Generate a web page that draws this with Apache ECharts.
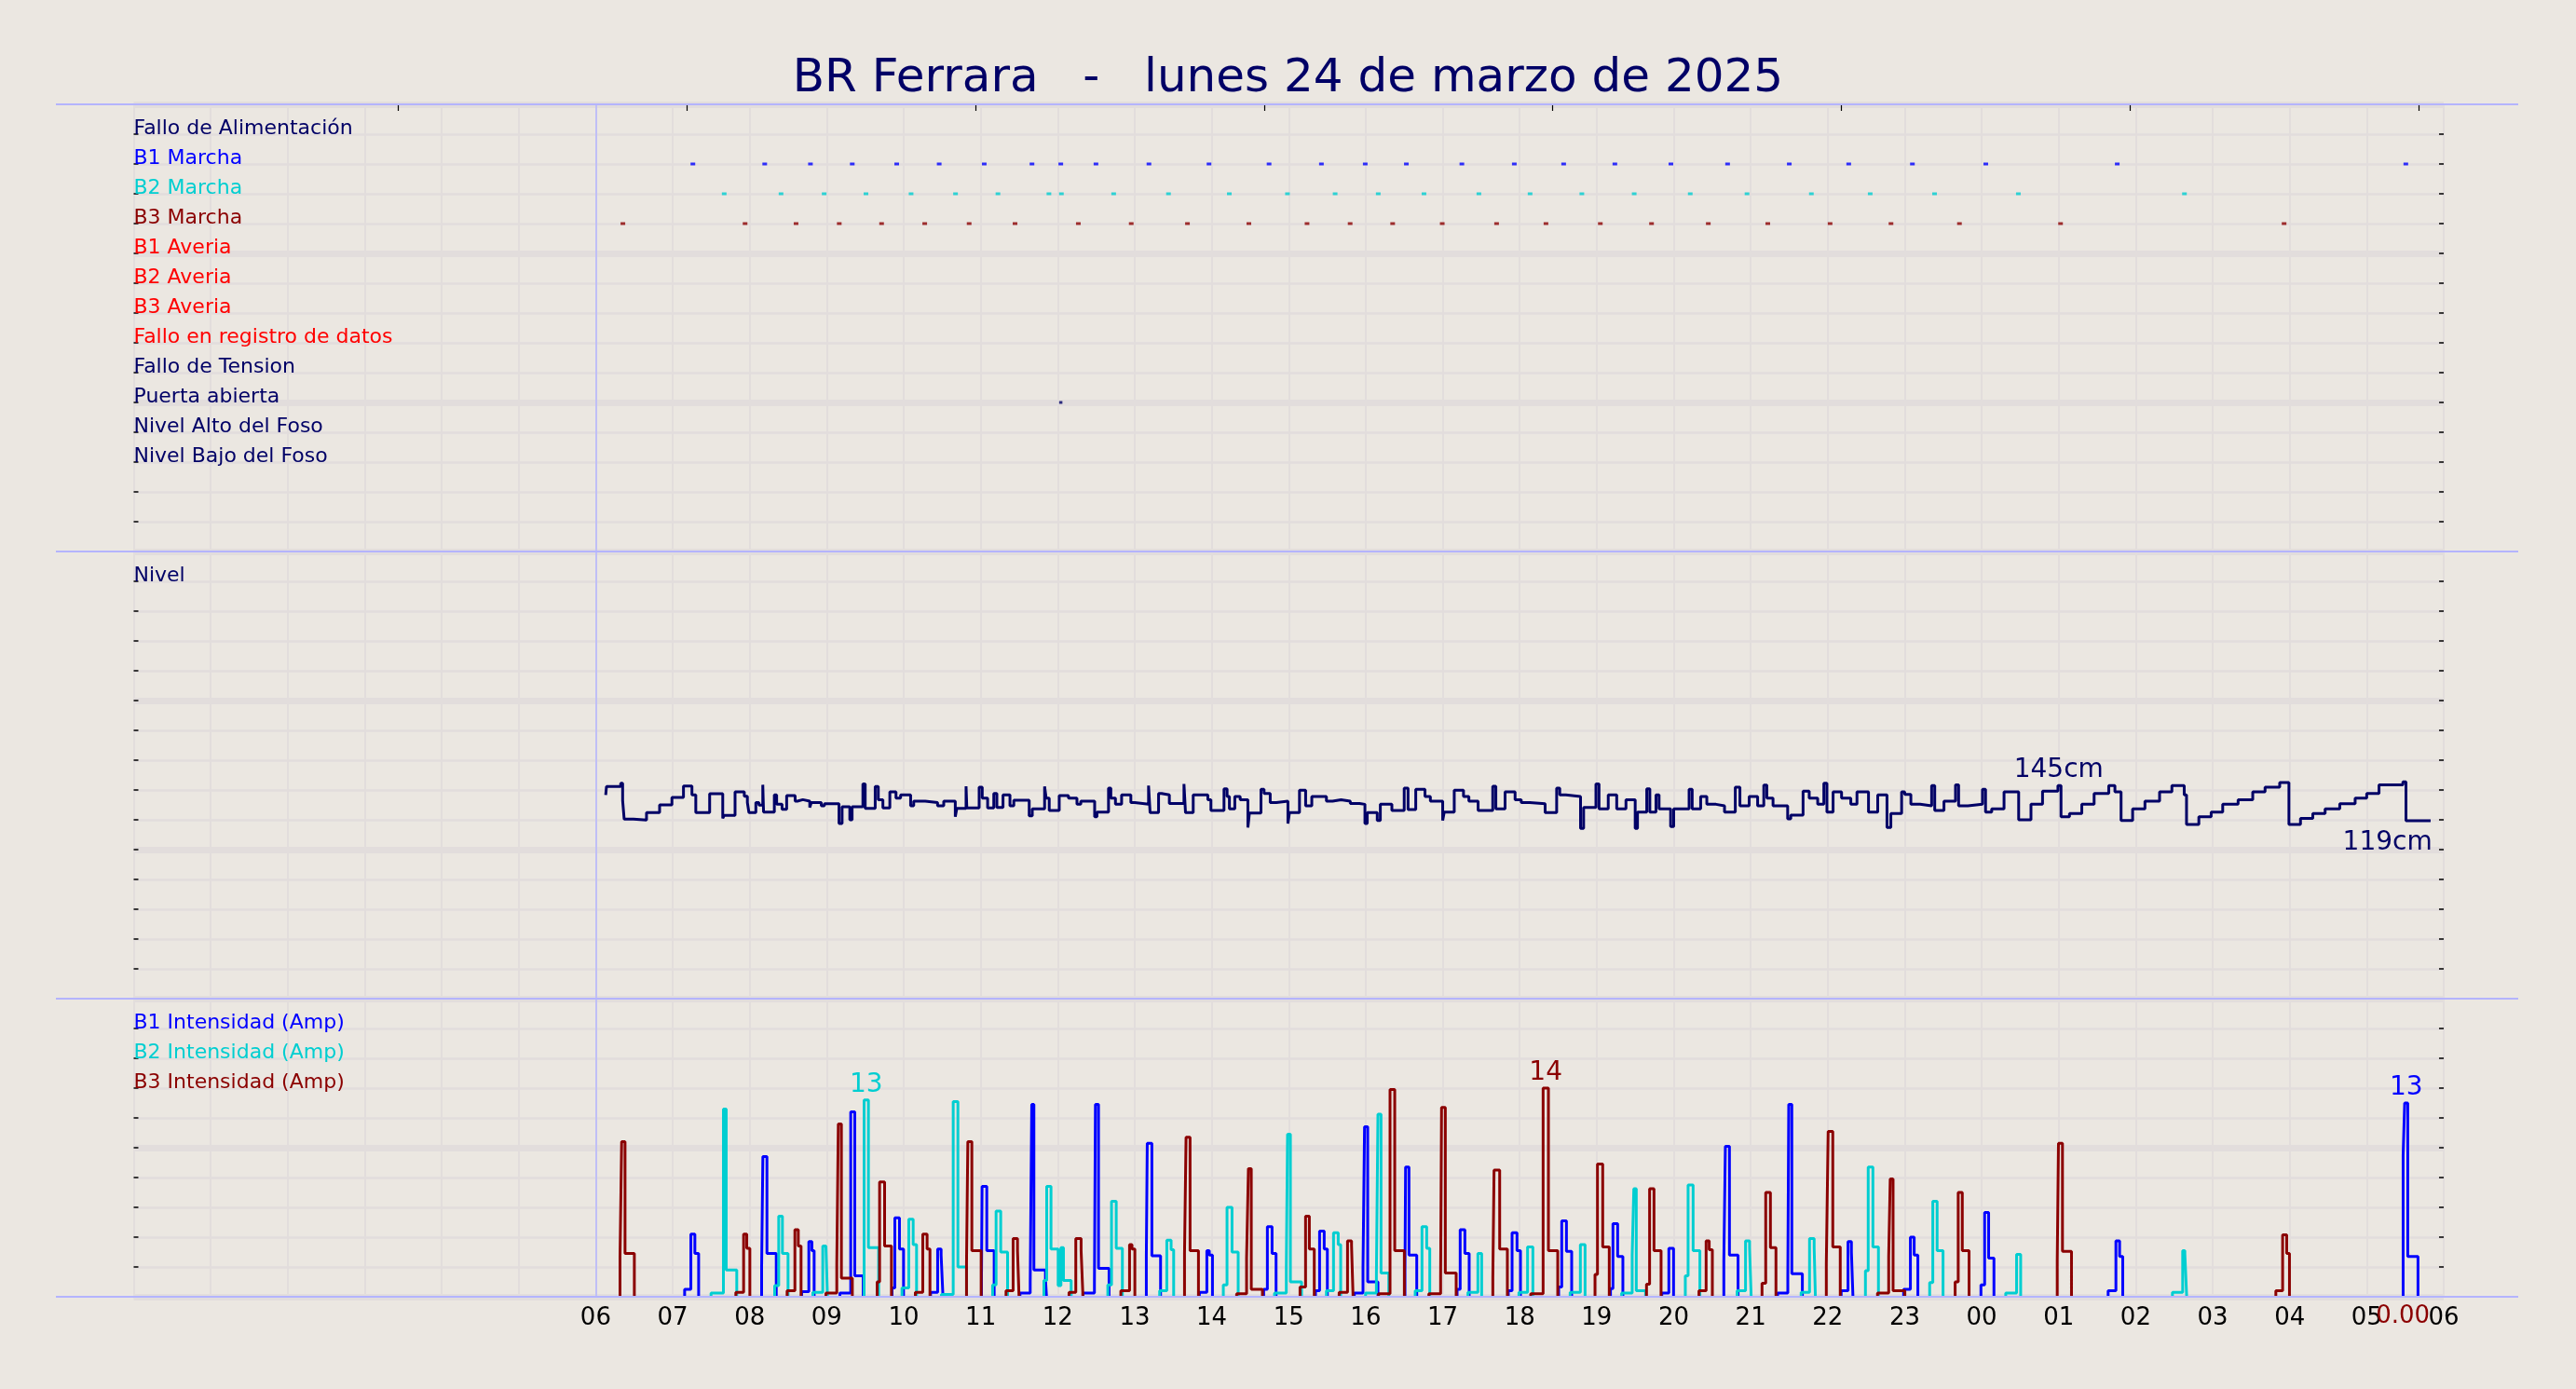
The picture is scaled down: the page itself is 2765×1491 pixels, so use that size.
<!DOCTYPE html>
<html>
<head>
<meta charset="utf-8">
<script src="https://cdn.jsdelivr.net/npm/echarts@6.0.0/dist/echarts.min.js"></script>
<style>
html,body{margin:0;padding:0;background:#ebe7e1;}
#chart{width:2765px;height:1491px;}
</style>
</head>
<body>
<div id="chart"></div>
<script>
// ---------------- DATA ----------------
const TITLE = 'BR Ferrara   -   lunes 24 de marzo de 2025';

// event rows (value on the event axis -> label)
const EVENT_ROW_VALUES = [14, 13, 12, 11, 10, 9, 8, 7, 6, 5, 4, 3];
const EVENT_LABELS = ['Fallo de Alimentación', 'B1 Marcha', 'B2 Marcha', 'B3 Marcha', 'B1 Averia', 'B2 Averia',
  'B3 Averia', 'Fallo en registro de datos', 'Fallo de Tension', 'Puerta abierta', 'Nivel Alto del Foso', 'Nivel Bajo del Foso'];
const EVENT_LABEL_COLORS = ['#000066', '#0000ff', '#00ced1', '#8b0000', '#ff0000', '#ff0000',
  '#ff0000', '#ff0000', '#000066', '#000066', '#000066', '#000066'];

const LEVEL_LABEL = 'Nivel';
const CURRENT_LABEL_VALUES = [18, 16, 14];
const CURRENT_LABELS = ['B1 Intensidad (Amp)', 'B2 Intensidad (Amp)', 'B3 Intensidad (Amp)'];

// hours since 00:00 of 24/03/2025
const B1_MARCHA = [7.262, 8.195, 8.789, 9.332, 9.909, 10.461, 11.046, 11.666, 12.040, 12.497, 13.185, 13.965, 14.745,
  15.425, 15.994, 16.528, 17.249, 17.930, 18.571, 19.236, 19.964, 20.700, 21.501, 22.273, 23.100, 24.053, 25.760, 29.508];
const B2_MARCHA = [7.669, 8.407, 8.967, 9.510, 10.096, 10.673, 11.224, 11.886, 12.048, 12.727, 13.439, 14.229, 14.984,
  15.603, 16.163, 16.757, 17.470, 18.135, 18.807, 19.487, 20.215, 20.952, 21.788, 22.552, 23.388, 24.476, 26.633];
const B3_MARCHA = [6.353, 7.940, 8.602, 9.163, 9.713, 10.273, 10.850, 11.446, 12.268, 12.955, 13.685, 14.483, 15.238,
  15.798, 16.350, 16.994, 17.700, 18.341, 19.047, 19.712, 20.449, 21.222, 22.031, 22.822, 23.711, 25.024, 27.927];
const PUERTA_ABIERTA = [12.040];

// level (cm), step points [hour, cm]
const LEVEL = [
  [6.13,136.7],[6.14,142.3],[6.325,144.6],[6.35,132.9],[6.37,120.4],[6.49,119.8],[6.66,124.8],[6.83,130.0],[6.99,135.0],
  [7.14,142.7],[7.25,136.7],[7.30,124.8],[7.48,137.5],[7.65,121.0],[7.67,122.9],[7.81,138.75],[7.93,135.8],[7.97,131.5],
  [7.99,124.8],[8.08,131.5],[8.12,129.8],[8.17,143.5],[8.18,125.2],[8.32,136.7],[8.35,130.4],[8.42,127.1],[8.48,136.25],
  [8.59,132.5],[8.62,133.5],[8.69,132.5],[8.78,128.3],[8.80,131.5],[8.93,129.4],[8.97,130.8],[9.16,117.5],[9.20,128.75],
  [9.30,120.0],[9.33,128.75],[9.47,144.0],[9.50,127.7],[9.63,142.3],[9.67,133.5],[9.73,127.9],[9.82,138.75],[9.90,134.6],
  [9.96,136.7],[10.09,129.4],[10.13,132.5],[10.28,131.5],[10.44,129.4],[10.52,132.5],[10.67,122.1],[10.69,127.7],
  [10.81,142.5],[10.82,127.9],[10.98,141.9],[11.02,134.6],[11.09,127.9],[11.17,137.7],[11.21,128.3],[11.29,136.7],
  [11.38,129.4],[11.43,133.1],[11.63,122.7],[11.67,127.3],[11.83,142.3],[11.85,134.6],[11.89,126.25],[12.02,136.25],
  [12.14,134.6],[12.25,130.4],[12.30,132.5],[12.48,122.1],[12.51,125.2],[12.66,141.25],[12.69,134.6],[12.75,130.4],
  [12.83,136.7],[12.95,131.5],[13.00,130.4],[13.18,142.9],[13.20,124.8],[13.31,137.7],[13.35,136.7],[13.45,131.0],
  [13.64,144.0],[13.66,124.8],[13.76,136.7],[13.95,133.5],[13.99,126.25],[14.16,140.8],[14.20,135.6],[14.23,127.3],
  [14.30,135.6],[14.37,133.5],[14.47,114.8],[14.49,124.6],[14.64,140.4],[14.68,137.7],[14.76,131.5],[14.84,132.5],
  [14.99,117.5],[15.01,124.8],[15.14,139.8],[15.22,129.4],[15.30,135.6],[15.49,132.5],[15.57,133.5],[15.68,132.5],
  [15.80,131.0],[15.92,130.4],[15.99,117.5],[16.02,124.8],[16.15,119.6],[16.19,130.4],[16.34,126.25],[16.50,141.25],
  [16.55,126.9],[16.65,140.4],[16.77,135.6],[16.84,132.5],[17.00,119.6],[17.02,125.2],[17.15,139.8],[17.27,135.6],
  [17.34,132.5],[17.46,126.25],[17.65,142.5],[17.69,127.3],[17.81,138.75],[17.94,133.5],[18.02,131.5],[18.13,130.8],
  [18.33,124.8],[18.48,141.25],[18.52,136.7],[18.60,135.6],[18.79,114.2],[18.83,128.3],[18.99,144.0],[19.03,127.3],
  [19.15,136.7],[19.26,127.3],[19.38,133.5],[19.50,114.2],[19.53,125.2],[19.65,140.8],[19.69,125.2],[19.77,136.7],
  [19.81,127.3],[19.96,115.4],[20.00,127.3],[20.20,140.4],[20.24,127.3],[20.35,135.6],[20.43,130.4],[20.55,129.4],
  [20.66,125.2],[20.80,141.9],[20.86,129.4],[20.98,135.6],[21.09,129.4],[21.17,143.3],[21.21,134.6],[21.29,129.4],
  [21.48,120.6],[21.52,123.1],[21.68,139.2],[21.76,134.6],[21.87,130.4],[21.95,144.6],[21.99,125.2],[22.07,138.75],
  [22.18,134.6],[22.30,130.4],[22.38,138.75],[22.53,125.2],[22.65,136.7],[22.77,114.8],[22.82,124.2],[22.96,138.75],
  [23.00,137.1],[23.08,130.4],[23.20,129.4],[23.35,142.9],[23.39,126.25],[23.51,132.5],[23.66,143.5],[23.70,129.4],
  [23.82,130.4],[24.01,140.4],[24.05,125.2],[24.13,127.3],[24.29,138.75],[24.48,120.0],[24.64,130.4],[24.79,139.2],
  [24.99,142.9],[25.03,122.1],[25.14,124.2],[25.30,130.4],[25.46,137.7],[25.65,142.9],[25.73,138.75],[25.81,119.6],
  [25.96,127.3],[26.12,132.5],[26.31,138.75],[26.47,142.9],[26.63,136.7],[26.66,116.9],[26.82,122.1],[26.98,125.2],
  [27.13,130.4],[27.33,133.5],[27.52,138.75],[27.68,141.9],[27.87,145.0],[27.99,116.9],[28.14,121.0],[28.30,124.2],
  [28.46,127.3],[28.65,130.8],[28.85,134.6],[29.00,137.7],[29.16,143.5],[29.47,145.4],[29.51,119.4],[29.83,119.4]
];
const LEVEL_MAX_LABEL_AT = [25.0, 153];
const LEVEL_LAST_LABEL_AT = [29.27, 104.5];

// pump cycles: [t, amps, t, amps, ..., tEnd]  (value holds until next time, back to 0 at tEnd)
const B1_CYCLES = [
  [7.155,0.5,7.236,4.2,7.288,2.9,7.337],
  [8.155,2.0,8.171,9.4,8.224,2.9,8.345],
  [8.675,0.35,8.768,3.7,8.808,3.1,8.837],
  [9.171,0.25,9.312,12.4,9.365,1.4,9.474],
  [9.849,0.6,9.885,5.3,9.945,3.2,9.998],
  [10.349,0.3,10.441,3.2,10.486,2.8,10.510],
  [11.010,1.0,11.018,7.4,11.079,3.1,11.175],
  [11.510,0.25,11.643,1.0,11.663,12.9,11.691,1.8,11.841,1.2,11.855],
  [12.328,0.25,12.477,0.9,12.490,12.9,12.530,1.9,12.667],
  [13.151,2.75,13.163,10.3,13.223,2.75,13.336],
  [13.840,0.3,13.937,3.1,13.969,2.8,14.010],
  [14.675,0.5,14.723,4.7,14.784,2.9,14.836],
  [15.348,0.4,15.401,4.4,15.461,3.2,15.502],
  [15.852,0.25,15.965,2.0,15.985,11.4,16.026,1.0,16.159],
  [16.510,1.6,16.518,8.7,16.562,2.8,16.663],
  [17.187,0.5,17.227,4.5,17.288,2.9,17.344],
  [17.852,0.4,17.901,4.3,17.965,3.1,18.010],
  [18.506,0.65,18.546,5.1,18.607,3.05,18.675],
  [19.179,0.55,19.211,4.9,19.272,2.7,19.340],
  [19.845,0.25,19.937,3.25,19.998],
  [20.651,2.4,20.671,10.1,20.724,2.8,20.836],
  [21.349,0.25,21.482,1.3,21.494,12.9,21.534,1.55,21.671],
  [22.175,0.4,22.264,3.7,22.308,3.0,22.328],
  [22.986,0.5,23.074,4.0,23.123,2.8,23.171],
  [23.990,0.8,24.038,5.65,24.090,2.6,24.159],
  [25.642,0.4,25.743,3.75,25.791,2.7,25.832],
  [29.473,9.5,29.493,13.0,29.533,2.7,29.666]
];
const B2_CYCLES = [
  [7.498,0.25,7.659,12.6,7.695,1.8,7.832],
  [8.324,0.75,8.377,5.4,8.425,2.9,8.498],
  [8.820,0.3,8.949,3.4,8.990,3.3,9.010],
  [9.486,13.2,9.542,3.3,9.675],
  [9.978,0.6,10.066,5.2,10.123,3.5,10.167],
  [10.490,0.15,10.643,13.1,10.704,2.0,10.816],
  [11.155,0.8,11.200,5.75,11.260,3.0,11.349],
  [11.821,1.1,11.857,7.4,11.913,3.2,12.006,0.75,12.042,3.3,12.075,1.1,12.175],
  [12.651,0.8,12.699,6.4,12.760,3.25,12.840],
  [13.324,0.4,13.417,3.8,13.473,3.15,13.506],
  [14.151,0.8,14.199,6.0,14.264,3.0,14.344],
  [14.816,0.25,14.969,2.0,14.985,10.9,15.022,1.0,15.167],
  [15.490,0.4,15.582,4.3,15.643,3.5,15.675],
  [15.998,0.25,16.139,1.5,16.159,12.25,16.199,1.6,16.300],
  [16.643,0.4,16.731,4.7,16.792,3.25,16.832],
  [17.328,0.3,17.457,2.9,17.506],
  [17.990,0.3,18.102,3.35,18.171],
  [18.655,0.3,18.788,3.5,18.849],
  [19.324,0.25,19.461,2.8,19.482,7.25,19.514,0.4,19.635],
  [20.151,1.4,20.187,7.5,20.252,3.1,20.340],
  [20.824,0.4,20.933,3.75,20.985,3.3,21.006],
  [21.655,0.3,21.764,3.9,21.824,3.3,21.840],
  [22.490,1.75,22.526,8.7,22.587,3.35,22.659],
  [23.324,0.95,23.365,6.4,23.421,3.1,23.498],
  [24.312,0.25,24.453,2.85,24.506],
  [26.477,0.3,26.610,3.1,26.638,2.9,26.662]
];
const B3_CYCLES = [
  [6.316,2.7,6.337,10.4,6.381,2.9,6.502],
  [7.820,0.3,7.921,4.2,7.962,3.25,8.002],
  [8.486,0.4,8.587,4.5,8.631,3.4,8.667],
  [8.990,0.25,9.131,2.2,9.151,11.6,9.191,1.25,9.333],
  [9.655,1.0,9.687,7.7,9.752,3.4,9.841],
  [10.151,0.3,10.248,4.2,10.304,3.2,10.341],
  [10.816,2.3,10.833,10.4,10.885,3.1,11.006],
  [11.329,0.4,11.421,3.9,11.478,3.1,11.498],
  [12.147,0.3,12.235,3.9,12.304,3.1,12.328],
  [12.820,0.4,12.933,3.5,12.965,3.2,13.002],
  [13.647,2.9,13.667,10.7,13.719,3.1,13.828],
  [14.324,0.2,14.453,2.6,14.477,8.6,14.514,0.5,14.659],
  [15.147,0.65,15.219,5.4,15.268,3.2,15.332],
  [15.655,0.3,15.764,3.75,15.816,3.45,15.836],
  [16.167,0.2,16.316,13.9,16.377,3.1,16.502],
  [16.820,0.2,16.973,1.3,16.985,12.7,17.034,1.6,17.175],
  [17.651,1.3,17.667,8.5,17.740,3.2,17.840],
  [18.143,0.2,18.304,14.0,18.373,3.1,18.494],
  [18.978,1.5,19.010,8.9,19.078,3.35,19.163],
  [19.647,0.85,19.687,7.25,19.744,3.1,19.836],
  [20.328,0.4,20.421,3.75,20.461,3.15,20.502],
  [21.147,0.9,21.195,7.0,21.256,3.3,21.328],
  [21.982,2.25,22.006,11.1,22.066,3.35,22.163],
  [22.647,0.25,22.792,2.7,22.812,7.9,22.849,0.4,23.002],
  [23.655,1.0,23.695,7.0,23.748,3.1,23.836],
  [24.981,2.4,24.997,10.3,25.049,3.05,25.166],
  [27.820,0.4,27.908,4.15,27.961,2.9,27.997]
];
const B3_LAST_VALUE = 0.00;
const B3_LAST_LABEL_AT = 29.47;

// axis ticks
const X_MIN = 0, X_MAX = 30, X_FIRST_LABEL = 6;
const START_LINE_AT = 6;
const TOP_TICKS = [3.43, 7.18, 10.93, 14.68, 18.43, 22.18, 25.93, 29.68];

// ---------------- STYLE ----------------
const FONT = 'DejaVu Sans';
const BG = '#ebe7e1';
const GRID_C = '#e2dddc';
const BORDER_C = '#b4b4ff';
const NAVY = '#000066';
const C_B1 = '#0000ff', C_B2 = '#00ced1', C_B3 = '#8b0000';
const W = 2765, LEFT = 143.5, RIGHT_EDGE = 2623;
const PANELS = [{top: 112, h: 480}, {top: 592, h: 480}, {top: 1072, h: 320}];

// ---------------- BUILD ----------------
const eventLabelMap = {}, eventColorMap = {};
EVENT_ROW_VALUES.forEach((v, i) => { eventLabelMap[v] = EVENT_LABELS[i]; eventColorMap[v] = EVENT_LABEL_COLORS[i]; });
const currentLabelMap = {}, currentColorMap = {};
const CUR_COLORS = [C_B1, C_B2, C_B3];
CURRENT_LABEL_VALUES.forEach((v, i) => { currentLabelMap[v] = CURRENT_LABELS[i]; currentColorMap[v] = CUR_COLORS[i]; });

// each cycle drawn as its own piece: rises from 0, steps, drops back to 0; gaps between cycles
function cyclePoints(cycles) {
  const pts = [];
  cycles.forEach(c => {
    pts.push([c[0], 0]);
    for (let i = 0; i + 1 < c.length; i += 2) pts.push([c[i], c[i + 1]]);
    pts.push([c[c.length - 1], 0]);
    pts.push('-');
  });
  return pts;
}
function maxMark(pts, color) {
  let mi = -1;
  pts.forEach((p, i) => { if (Array.isArray(p) && (mi < 0 || p[1] > pts[mi][1])) mi = i; });
  const nx = Array.isArray(pts[mi + 1]) ? pts[mi + 1][0] : pts[mi][0];
  const v = pts[mi][1];
  return {
    coord: [(pts[mi][0] + nx) / 2, v], symbol: 'circle', symbolSize: 0,
    label: {show: true, position: 'top', distance: 2, formatter: String(Math.round(v)),
      color: color, fontSize: 28, fontFamily: FONT}
  };
}
const startLine = {
  silent: true, symbol: 'none', animation: false,
  label: {show: false},
  lineStyle: {color: BORDER_C, width: 1.5, type: 'solid'},
  data: [{xAxis: START_LINE_AT}]
};

function yAxesFor(gi, max, interval, major, fmt, colorFn) {
  return [
    {type: 'value', gridIndex: gi, min: 0, max: max, interval: interval, position: 'left',
      axisLine: {show: false, onZero: false},
      axisTick: {show: true, inside: true, length: 5, lineStyle: {color: '#000', width: 1.5}},
      splitLine: {show: true, lineStyle: {color: GRID_C, width: 2.5}},
      axisLabel: {show: true, inside: true, margin: 0, align: 'left', verticalAlign: 'bottom', lineHeight: 11,
        fontSize: 22, fontFamily: FONT, formatter: fmt, color: colorFn}},
    {type: 'value', gridIndex: gi, min: 0, max: max, interval: interval, position: 'right',
      axisLine: {show: false, onZero: false},
      axisTick: {show: true, inside: true, length: 5, lineStyle: {color: '#000', width: 1.5}},
      splitLine: {show: false}, axisLabel: {show: false}},
    {type: 'value', gridIndex: gi, min: 0, max: max, interval: major, position: 'left',
      axisLine: {show: false, onZero: false}, axisTick: {show: false}, axisLabel: {show: false},
      splitLine: {show: true, lineStyle: {color: GRID_C, width: 7}}}
  ];
}
function xAxisFor(gi, showLabels) {
  return {type: 'value', gridIndex: gi, min: X_MIN, max: X_MAX, interval: 1, position: 'bottom',
    axisLine: {show: false, onZero: false}, axisTick: {show: false},
    splitLine: {show: true, lineStyle: {color: GRID_C, width: 2}},
    axisLabel: {show: showLabels, margin: 10, fontSize: 26, fontFamily: FONT, color: '#000',
      formatter: v => (v < X_FIRST_LABEL ? '' : String(v % 24).padStart(2, '0'))}};
}

const b1 = cyclePoints(B1_CYCLES), b2 = cyclePoints(B2_CYCLES), b3 = cyclePoints(B3_CYCLES);
const levelMax = Math.max(...LEVEL.map(p => p[1]));
const levelLast = LEVEL[LEVEL.length - 1][1];

const option = {
  animation: false,
  backgroundColor: BG,
  textStyle: {fontFamily: FONT},
  title: {text: TITLE, left: 'center', top: 55,
    textStyle: {fontSize: 50, fontWeight: 'normal', color: NAVY, fontFamily: FONT}},
  grid: PANELS.map(p => ({left: LEFT, right: W - RIGHT_EDGE, top: p.top, height: p.h})),
  xAxis: [
    xAxisFor(0, false), xAxisFor(1, false), xAxisFor(2, true),
    {type: 'value', gridIndex: 0, position: 'top', min: X_MIN, max: X_MAX, interval: 1,
      axisLine: {show: false, onZero: false}, axisLabel: {show: false}, splitLine: {show: false},
      axisTick: {show: true, inside: true, length: 7, customValues: TOP_TICKS, lineStyle: {color: '#000', width: 1.2}}}
  ],
  yAxis: [
    ...yAxesFor(0, 15, 1, 5, v => eventLabelMap[v] || '', v => eventColorMap[v] || '#000'),
    ...yAxesFor(1, 300, 20, 100, v => (Number(v) === 280 ? LEVEL_LABEL : ''), () => NAVY),
    ...yAxesFor(2, 20, 2, 10, v => currentLabelMap[v] || '', v => currentColorMap[v] || '#000')
  ],
  graphic: PANELS.map(p => p.top).concat([PANELS[2].top + PANELS[2].h]).map(y => ({
    type: 'line', z: 100, silent: true,
    shape: {x1: 60, y1: y, x2: 2703, y2: y},
    style: {stroke: BORDER_C, lineWidth: 2}
  })),
  series: [
    {type: 'scatter', name: 'B1 Marcha', xAxisIndex: 0, yAxisIndex: 0, symbol: 'rect', symbolSize: [5, 3],
      itemStyle: {color: C_B1}, data: B1_MARCHA.map(t => [t, 13]), markLine: startLine},
    {type: 'scatter', name: 'B2 Marcha', xAxisIndex: 0, yAxisIndex: 0, symbol: 'rect', symbolSize: [5, 3],
      itemStyle: {color: C_B2}, data: B2_MARCHA.map(t => [t, 12])},
    {type: 'scatter', name: 'B3 Marcha', xAxisIndex: 0, yAxisIndex: 0, symbol: 'rect', symbolSize: [5, 3],
      itemStyle: {color: C_B3}, data: B3_MARCHA.map(t => [t, 11])},
    {type: 'scatter', name: 'Puerta abierta', xAxisIndex: 0, yAxisIndex: 0, symbol: 'rect', symbolSize: [3.5, 3],
      itemStyle: {color: NAVY}, data: PUERTA_ABIERTA.map(t => [t, 5])},
    {type: 'line', name: 'Nivel', xAxisIndex: 1, yAxisIndex: 3, step: 'end', showSymbol: false,
      lineStyle: {color: NAVY, width: 3}, itemStyle: {color: NAVY}, data: LEVEL, markLine: startLine,
      markPoint: {silent: true, data: [
        {coord: LEVEL_MAX_LABEL_AT, symbol: 'circle', symbolSize: 0,
          label: {show: true, position: 'inside', formatter: Math.floor(levelMax) + 'cm', color: NAVY, fontSize: 28, fontFamily: FONT}},
        {coord: LEVEL_LAST_LABEL_AT, symbol: 'circle', symbolSize: 0,
          label: {show: true, position: 'inside', formatter: Math.round(levelLast) + 'cm', color: NAVY, fontSize: 28, fontFamily: FONT}}
      ]}},
    {type: 'line', name: 'B1 Intensidad', xAxisIndex: 2, yAxisIndex: 6, step: 'end', showSymbol: false,
      connectNulls: false,
      lineStyle: {color: C_B1, width: 3}, itemStyle: {color: C_B1}, data: b1, markLine: startLine,
      markPoint: {silent: true, data: [maxMark(b1, C_B1)]}},
    {type: 'line', name: 'B2 Intensidad', xAxisIndex: 2, yAxisIndex: 6, step: 'end', showSymbol: false,
      connectNulls: false,
      lineStyle: {color: C_B2, width: 3}, itemStyle: {color: C_B2}, data: b2,
      markPoint: {silent: true, data: [maxMark(b2, C_B2)]}},
    {type: 'line', name: 'B3 Intensidad', xAxisIndex: 2, yAxisIndex: 6, step: 'end', showSymbol: false,
      connectNulls: false,
      lineStyle: {color: C_B3, width: 3}, itemStyle: {color: C_B3}, data: b3,
      markPoint: {silent: true, data: [maxMark(b3, C_B3),
        {coord: [B3_LAST_LABEL_AT, 0], symbol: 'circle', symbolSize: 0,
          label: {show: true, position: 'bottom', distance: 8, formatter: B3_LAST_VALUE.toFixed(2), color: C_B3, fontSize: 26, fontFamily: FONT}}]}}
  ]
};

const chart = echarts.init(document.getElementById('chart'), null, {renderer: 'canvas'});
chart.setOption(option);
</script>
</body>
</html>
